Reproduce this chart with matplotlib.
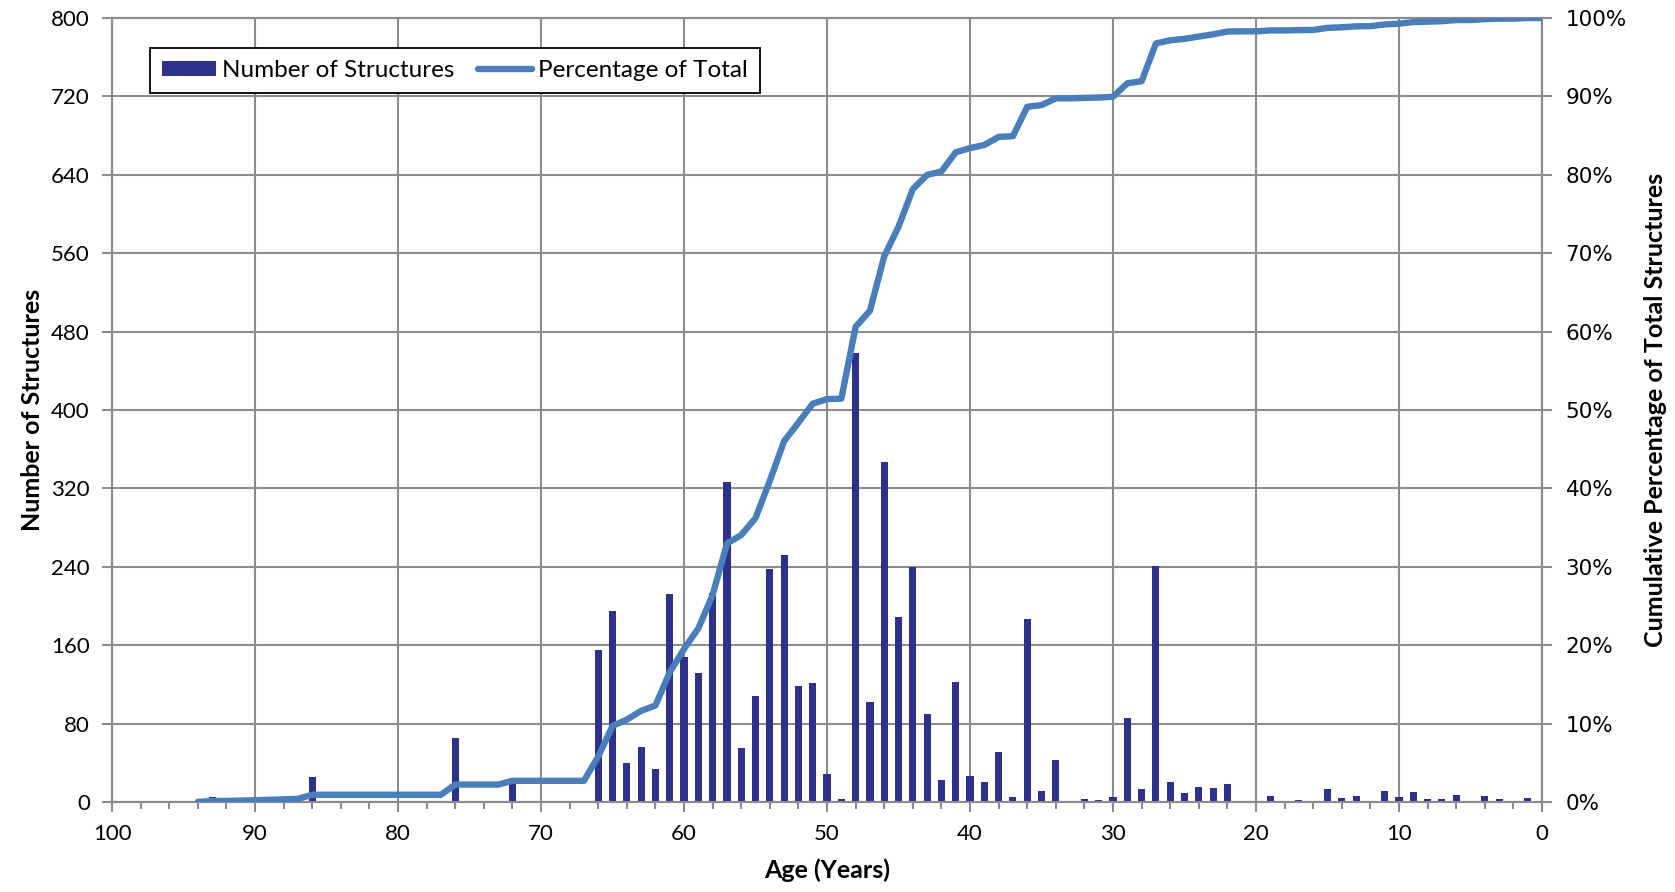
import numpy as np
import matplotlib.pyplot as plt
from matplotlib.ticker import MultipleLocator, FuncFormatter

# structure counts by age (years), oldest first
ages = list(range(94, -1, -1))
counts = [
    1, 5, 1, 2, 2, 3, 3, 3, 26, 0,        # 94-85
    0, 0, 0, 0, 0, 0, 0, 0, 65, 0,        # 84-75
    0, 0, 24, 0, 0, 0, 0, 0, 155, 195,    # 74-65
    40, 56, 34, 212, 148, 132, 213, 327, 55, 108,   # 64-55
    238, 252, 118, 121, 29, 3, 458, 102, 347, 189,  # 54-45
    240, 90, 22, 122, 27, 20, 51, 5, 187, 11,       # 44-35
    43, 0, 3, 2, 5, 86, 13, 241, 20, 9,             # 34-25
    15, 14, 18, 1, 0, 6, 0, 2, 1, 13,               # 24-15
    4, 6, 1, 11, 5, 10, 3, 3, 7, 0,                 # 14-5
    6, 3, 0, 4, 0,                                  # 4-0
]

count_ticks = list(range(0, 801, 80))
pct_ticks = list(range(0, 101, 10))

ages = np.array(ages)
counts = np.array(counts)
cum_pct = np.cumsum(counts) / counts.sum() * 100

grid_col = "#8c8c8c"
bar_col = "#2d318c"
line_col = "#4a7ebb"
tick_font = "Lato"

fig = plt.figure(figsize=(16.75, 8.92), dpi=100)
ax = fig.add_axes([0.0669, 0.1009, 0.8537, 0.8789])
ax2 = ax.twinx()

ax.bar(ages, counts, width=0.5, color=bar_col, label="Number of Structures", zorder=3)
ax2.plot(ages, cum_pct, color=line_col, lw=4.6, solid_capstyle="round",
         solid_joinstyle="round", label="Percentage of Total", zorder=4)

ax.set_xlim(100, 0)
ax.set_ylim(0, 800)
ax2.set_ylim(0, 100)

ax.xaxis.set_major_locator(MultipleLocator(10))
ax.xaxis.set_minor_locator(MultipleLocator(2))
ax.set_yticks(count_ticks)
ax2.set_yticks(pct_ticks)
ax2.yaxis.set_major_formatter(FuncFormatter(lambda v, p: f"{v:.0f}%"))

ax.set_axisbelow(True)
ax.grid(True, which="major", color=grid_col, lw=1.5)

for a in (ax, ax2):
    for s in a.spines.values():
        s.set_color(grid_col)
        s.set_linewidth(1.5)

ax.tick_params(axis="both", which="both", direction="out", color=grid_col, width=1.5)
ax.tick_params(axis="x", which="major", length=7, pad=9, labelsize=16)
ax.tick_params(axis="x", which="minor", length=5)
ax.tick_params(axis="y", length=7, pad=9, labelsize=16)
ax2.tick_params(axis="y", direction="out", color=grid_col, width=1.5, length=7, pad=10,
                labelsize=15.5)

for lbl in ax.get_xticklabels() + ax.get_yticklabels():
    lbl.set_fontfamily(tick_font)
for lbl in ax2.get_yticklabels():
    lbl.set_fontfamily("DejaVu Sans")

ax.set_xlabel("Age (Years)", fontsize=18, fontweight="bold", family=tick_font, labelpad=10)
ax.set_ylabel("Number of Structures", fontsize=18, fontweight="bold", family=tick_font,
              labelpad=5)
ax2.set_ylabel("Cumulative Percentage of Total Structures", fontsize=18, fontweight="bold",
               family=tick_font, labelpad=12)

h1, l1 = ax.get_legend_handles_labels()
h2, l2 = ax2.get_legend_handles_labels()
leg = ax2.legend(h1 + h2, l1 + l2, loc="upper left", bbox_to_anchor=(0.0266, 0.9617),
                 borderaxespad=0, ncol=2, fancybox=False, framealpha=1,
                 edgecolor="black", prop={"family": tick_font, "size": 17.5},
                 handlelength=2.2, handleheight=0.6, handletextpad=0.25,
                 columnspacing=1.0, borderpad=0.5)
leg.get_frame().set_linewidth(1.3)

fig.savefig("out.png", dpi=100)
